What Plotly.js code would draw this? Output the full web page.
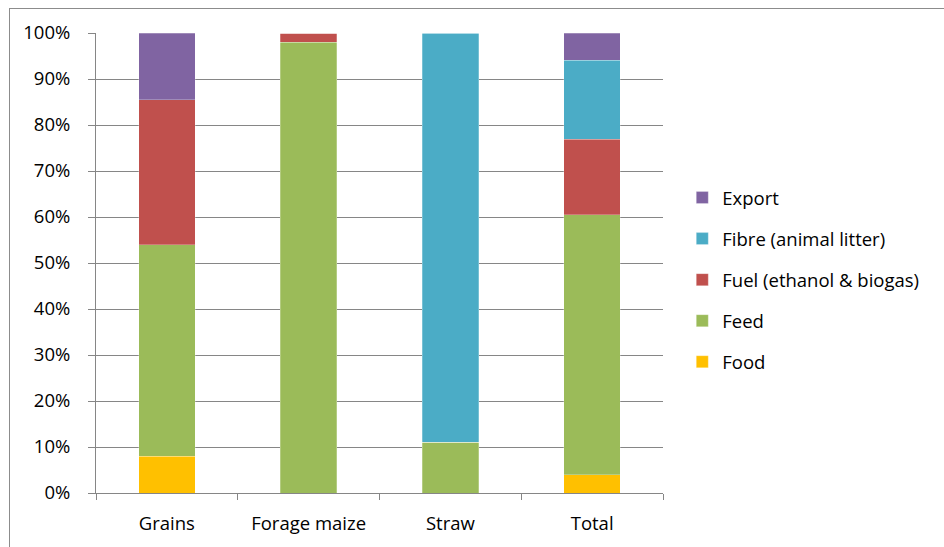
<!DOCTYPE html>
<html>
<head>
<meta charset="utf-8">
<script src="https://cdn.plot.ly/plotly-3.0.1.min.js"></script>
<style>
  html, body { margin: 0; padding: 0; background: #fff; overflow: hidden; }
  #frame {
    position: absolute; left: 9px; top: 8px;
    width: 935px; height: 539px;
    border-left: 1px solid #8c8c8c; border-top: 1px solid #8c8c8c;
    box-sizing: border-box;
  }
  #chart { width: 934px; height: 538px; }
</style>
</head>
<body>
<div id="frame"><div id="chart"></div></div>
<script>
// Share of each crop product going to each end use (%)
const categories = ["Grains", "Forage maize", "Straw", "Total"];
const food   = [8,    0,  0,  4];
const feed   = [46,  98, 11, 56.5];
const fuel   = [31.5, 2,  0, 16.4];
const fibre  = [0,    0, 89, 17.2];
const exportShare = [14.5, 0, 0, 5.9];

const seriesNames  = ["Food", "Feed", "Fuel (ethanol & biogas)", "Fibre (animal litter)", "Export"];
const seriesValues = [food, feed, fuel, fibre, exportShare];
const seriesColors = ["#FFC000", "#9BBB59", "#C0504D", "#4BACC6", "#8064A2"];

const font = "'Open Sans', Lato, sans-serif";
const fontSize = 18.5;

// Stacked bottom-up; legend lists the top segment first
const traces = seriesNames.map((name, i) => ({
  type: "bar",
  name: name,
  legendgroup: name,
  legendrank: seriesNames.length - i,
  x: categories,
  y: seriesValues[i],
  marker: { color: seriesColors[i], line: { color: "rgba(255,255,255,0.5)", width: 0.5 } },
  hoverinfo: "x+y+name"
}));

const layout = {
  width: 934,
  height: 538,
  margin: { l: 86, r: 281, t: 24, b: 54 },
  barmode: "stack",
  bargap: 0.6,
  paper_bgcolor: "#ffffff",
  plot_bgcolor: "#ffffff",
  font: { family: font, size: fontSize, color: "#000" },
  xaxis: {
    type: "category",
    showline: true, linecolor: "#868686", linewidth: 1,
    ticks: "outside", tickson: "boundaries", ticklen: 6, tickcolor: "#868686",
    showgrid: false,
    ticklabelstandoff: 14,
    tickfont: { family: font, size: fontSize, color: "#000" }
  },
  yaxis: {
    range: [0, 100], dtick: 10, ticksuffix: "%",
    showline: true, linecolor: "#868686", linewidth: 1,
    ticks: "outside", ticklen: 7, tickcolor: "#868686",
    showgrid: true, gridcolor: "#868686", gridwidth: 1,
    zeroline: false,
    ticklabelstandoff: 14,
    tickfont: { family: font, size: fontSize, color: "#000" }
  },
  showlegend: true,
  legend: {
    traceorder: "grouped",
    tracegroupgap: 14,
    x: 1.034, xanchor: "left",
    y: 0.463, yanchor: "middle",
    font: { family: font, size: fontSize, color: "#000" },
    bgcolor: "rgba(0,0,0,0)"
  }
};

Plotly.newPlot("chart", traces, layout, { displayModeBar: false, staticPlot: true });
</script>
</body>
</html>
